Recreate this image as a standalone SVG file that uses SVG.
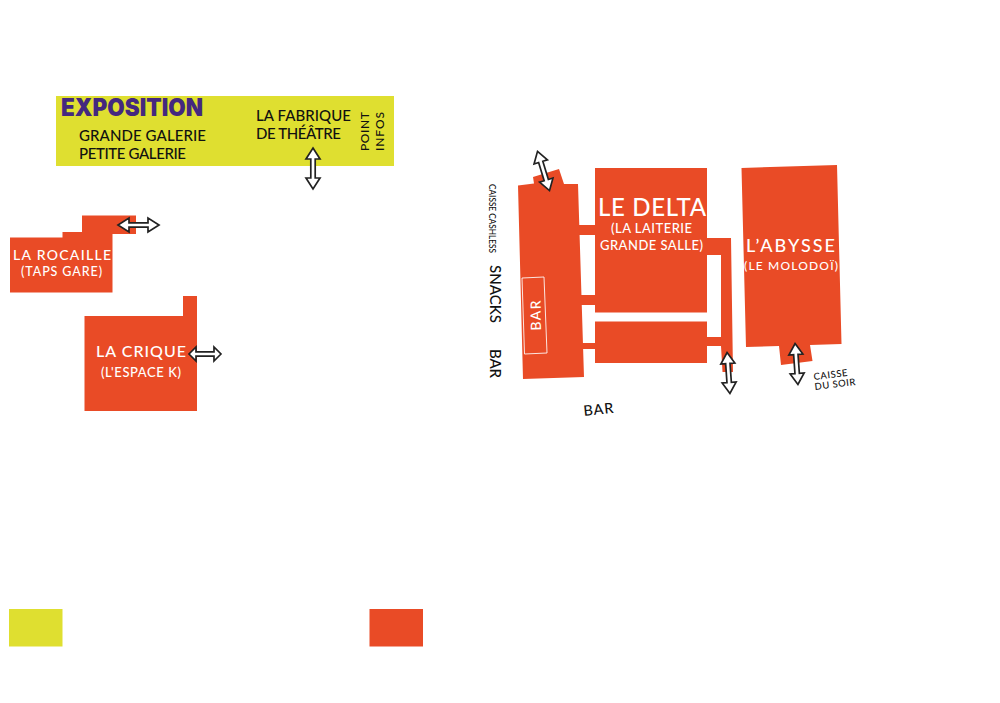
<svg xmlns="http://www.w3.org/2000/svg" xmlns:xlink="http://www.w3.org/1999/xlink" width="1000" height="703" viewBox="0 0 1000 703">
<style>
text{font-family:"Lato","Liberation Sans",sans-serif;font-weight:500}
.o{fill:#e94b26}
.y{fill:#dfdf30}
.w{fill:#fff}
.k{fill:#111}
.ar{fill:#fff;stroke:#222;stroke-width:1.7;stroke-linejoin:miter}
</style>
<defs>
<polygon id="a41" points="0,-20.5 7,-9.5 2.2,-9.5 2.2,9.5 7,9.5 0,20.5 -7,9.5 -2.2,9.5 -2.2,-9.5 -7,-9.5"/>
<polygon id="a32" points="0,-16 7,-9 2.2,-9 2.2,9 7,9 0,16 -7,9 -2.2,9 -2.2,-9 -7,-9"/>
</defs>
<rect width="1000" height="703" fill="#fff"/>
<g id="exposition">
<rect class="y" x="56" y="96" width="338" height="70"/>
<text x="61" y="116" font-size="24" textLength="142" lengthAdjust="spacingAndGlyphs" style="font-family:Inter,'Liberation Sans',sans-serif;font-weight:900" fill="#44287f">EXPOSITION</text>
<text class="k" x="79" y="141" font-size="15" textLength="127">GRANDE GALERIE</text>
<text class="k" x="79" y="159" font-size="15" textLength="107">PETITE GALERIE</text>
<text class="k" x="256" y="121" font-size="15" textLength="95">LA FABRIQUE</text>
<text class="k" x="256" y="139" font-size="15" textLength="85">DE THÉÂTRE</text>
<text class="k" transform="translate(369,151) rotate(-90)" font-size="12" textLength="39">POINT</text>
<text class="k" transform="translate(384,151) rotate(-90)" font-size="12" textLength="39">INFOS</text>
</g>
<g id="la-rocaille">
<polygon class="o" points="10,237.5 62.5,237.5 62.5,232 82,232 82,215.5 136,215.5 136,234 112.500,234 112.500,292.500 10,292.500"/>
<text class="w" x="13" y="260" font-size="14" textLength="98">LA ROCAILLE</text>
<text class="w" x="21" y="275.500" font-size="12.500" textLength="81">(TAPS GARE)</text>
</g>
<g id="la-crique">
<polygon class="o" points="84.500,316 183,316 183,296 197,296 197,411 84.500,411"/>
<text class="w" x="96" y="357" font-size="16" textLength="90">LA CRIQUE</text>
<text class="w" x="101" y="377" font-size="13" textLength="80">(L'ESPACE K)</text>
</g>
<g id="le-delta">
<polygon class="o" points="518,185.500 534,183.500 533,177 559,169 564,184 578,184 584,377 523,379"/>
<rect class="o" x="578" y="225" width="18" height="10"/>
<rect class="o" x="581" y="295" width="15" height="10"/>
<rect class="o" x="582" y="343" width="14" height="6"/>
<rect class="o" x="595" y="168" width="112" height="144.500"/>
<rect class="o" x="595" y="321.500" width="112" height="41.500"/>
<polygon class="o" points="707,238 731,238 733,372 722.500,372 721,346 707,346 707,337 721,337 721,255 707,255"/>
<text class="w" x="598" y="215.500" font-size="24" textLength="108">LE DELTA</text>
<text class="w" x="611" y="232.500" font-size="13" textLength="81">(LA LAITERIE</text>
<text class="w" x="600" y="249.500" font-size="13" textLength="103">GRANDE SALLE)</text>
<polygon points="522,278 544,277 547,353 524.500,354" fill="none" stroke="#fff" stroke-opacity=".85" stroke-width="1"/>
<text class="w" transform="translate(541,330.500) rotate(-91)" font-size="14" textLength="30">BAR</text>
</g>
<g id="l-abysse">
<polygon class="o" points="741.500,168 837,165 841.500,344 810,345 812.500,361 781,365 779,346 746,347"/>
<text class="w" x="746" y="252" font-size="18" textLength="89">L’ABYSSE</text>
<text class="w" x="744" y="270" font-size="12" textLength="94">(LE MOLODOÏ)</text>
</g>
<g id="labels">
<text class="k" transform="translate(489,184) rotate(90)" font-size="9.500" textLength="69" lengthAdjust="spacingAndGlyphs">CAISSE CASHLESS</text>
<text class="k" transform="translate(490,265) rotate(90)" font-size="15" textLength="58">SNACKS</text>
<text class="k" transform="translate(490,349) rotate(90)" font-size="15" textLength="29">BAR</text>
<text class="k" transform="translate(584,416) rotate(-6)" font-size="14.500" textLength="30">BAR</text>
<text class="k" transform="translate(814,380) rotate(-7)" font-size="9.500" textLength="34">CAISSE</text>
<text class="k" transform="translate(815,390) rotate(-7)" font-size="9.500" textLength="41">DU SOIR</text>
</g>
<g id="legend">
<rect class="y" x="9" y="609" width="53.500" height="37.500"/>
<rect class="o" x="369.500" y="609" width="53.500" height="37.500"/>
</g>
<g id="connectors">
<use class="ar" xlink:href="#a41" href="#a41" transform="translate(313,168.500)"/>
<use class="ar" xlink:href="#a41" href="#a41" transform="translate(138.500,225) rotate(90)"/>
<use class="ar" xlink:href="#a32" href="#a32" transform="translate(205,354) rotate(90)"/>
<use class="ar" xlink:href="#a41" href="#a41" transform="translate(543.500,171) rotate(-17)"/>
<use class="ar" xlink:href="#a41" href="#a41" transform="translate(728.500,373) rotate(-4)"/>
<use class="ar" xlink:href="#a41" href="#a41" transform="translate(796.500,364) rotate(-4)"/>
</g>
</svg>
